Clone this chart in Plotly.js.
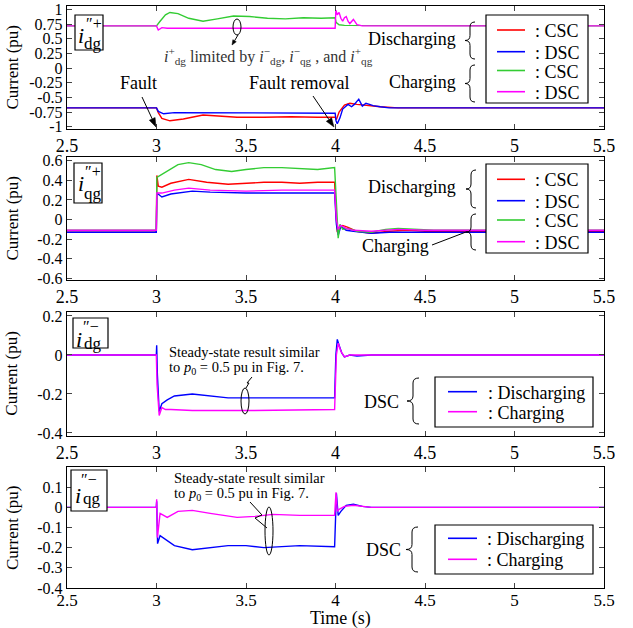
<!DOCTYPE html>
<html><head><meta charset="utf-8">
<script src="https://cdn.plot.ly/plotly-3.0.1.min.js"></script>
<style>body{margin:0;padding:0;background:#fff}#chart{width:633px;height:628px}</style>
</head><body><div id="chart"></div>
<script>
// ---------- DATA ----------
const xTicks = [2.5, 3, 3.5, 4, 4.5, 5, 5.5];
const xTickText = ["2.5", "3", "3.5", "4", "4.5", "5", "5.5"];
const y1Ticks = [1, 0.75, 0.5, 0.25, 0, -0.25, -0.5, -0.75, -1];
const y1TickText = ["1", "0.75", "0.5", "0.25", "0", "-0.25", "-0.5", "-0.75", "-1"];
const y2Ticks = [0.6, 0.4, 0.2, 0, -0.2, -0.4, -0.6];
const y2TickText = ["0.6", "0.4", "0.2", "0", "-0.2", "-0.4", "-0.6"];
const y3Ticks = [0.2, 0, -0.2, -0.4];
const y3TickText = ["0.2", "0", "-0.2", "-0.4"];
const y4Ticks = [0.1, 0, -0.1, -0.2, -0.3, -0.4];
const y4TickText = ["0.1", "0", "-0.1", "-0.2", "-0.3", "-0.4"];

// Plot 1: i''+ dg
const p1RedT = [2.5, 3.0, 3.01, 3.03, 3.075, 3.15, 3.26, 3.35, 3.45, 3.6, 3.75, 3.9, 3.998, 4.005, 4.02, 4.05, 4.08, 4.12, 4.18, 4.25, 4.35, 5.5];
const p1RedV = [-0.68, -0.68, -0.76, -0.86, -0.90, -0.87, -0.80, -0.82, -0.84, -0.84, -0.83, -0.84, -0.84, -0.88, -0.75, -0.63, -0.60, -0.62, -0.64, -0.66, -0.68, -0.68];
const p1BlueT = [2.5, 3.0, 3.01, 3.04, 3.1, 3.3, 3.5, 3.7, 3.9, 3.998, 4.003, 4.01, 4.025, 4.04, 4.07, 4.09, 4.105, 4.13, 4.15, 4.17, 4.19, 4.21, 4.25, 4.3, 5.5];
const p1BlueV = [-0.68, -0.68, -0.74, -0.78, -0.76, -0.76, -0.77, -0.76, -0.77, -0.77, -0.90, -0.95, -0.85, -0.70, -0.62, -0.66, -0.62, -0.53, -0.65, -0.60, -0.62, -0.64, -0.66, -0.68, -0.68];
const p1GreenT = [2.5, 3.0, 3.02, 3.05, 3.075, 3.12, 3.18, 3.26, 3.34, 3.43, 3.52, 3.62, 3.72, 3.82, 3.92, 3.998, 4.003, 4.02, 4.05, 4.1, 4.15, 4.2, 4.3, 4.4, 4.5, 4.6, 5.5];
const p1GreenV = [0.72, 0.72, 0.80, 0.91, 0.95, 0.93, 0.85, 0.80, 0.84, 0.89, 0.88, 0.85, 0.84, 0.86, 0.85, 0.86, 0.78, 0.74, 0.73, 0.73, 0.72, 0.72, 0.73, 0.73, 0.72, 0.72, 0.72];
const p1PinkT = [2.5, 3.0, 3.01, 3.03, 3.06, 3.2, 3.5, 3.998, 4.002, 4.01, 4.02, 4.03, 4.04, 4.05, 4.06, 4.07, 4.08, 4.09, 4.1, 4.12, 4.15, 5.5];
const p1PinkV = [0.72, 0.72, 0.65, 0.69, 0.68, 0.68, 0.68, 0.68, 0.99, 0.91, 0.95, 0.85, 0.80, 0.86, 0.88, 0.80, 0.76, 0.80, 0.83, 0.74, 0.72, 0.72];

// Plot 2: i''+ qg
const p2RedT = [2.5, 2.999, 3.002, 3.01, 3.03, 3.08, 3.18, 3.28, 3.4, 3.5, 3.6, 3.7, 3.8, 3.9, 3.995, 4.005, 4.01, 4.02, 4.04, 4.07, 4.12, 4.2, 4.3, 4.4, 4.5, 5.5];
const p2RedV = [-0.13, -0.13, 0.45, 0.34, 0.33, 0.37, 0.41, 0.38, 0.36, 0.37, 0.38, 0.38, 0.37, 0.38, 0.38, 0.0, -0.13, -0.08, -0.06, -0.08, -0.12, -0.14, -0.12, -0.11, -0.12, -0.12];
const p2BlueT = [2.5, 2.999, 3.002, 3.01, 3.03, 3.08, 3.2, 3.3, 3.5, 3.7, 3.9, 3.995, 4.005, 4.015, 4.03, 4.06, 4.1, 4.2, 4.3, 5.5];
const p2BlueV = [-0.13, -0.13, 0.27, 0.26, 0.23, 0.26, 0.29, 0.28, 0.27, 0.27, 0.27, 0.27, -0.05, -0.16, -0.07, -0.11, -0.12, -0.14, -0.13, -0.13];
const p2GreenT = [2.5, 2.999, 3.002, 3.02, 3.06, 3.12, 3.18, 3.25, 3.33, 3.42, 3.5, 3.6, 3.7, 3.8, 3.9, 3.995, 4.005, 4.015, 4.025, 4.04, 4.07, 4.12, 4.2, 4.28, 4.35, 4.45, 4.55, 5.5];
const p2GreenV = [-0.11, -0.11, 0.43, 0.45, 0.50, 0.56, 0.58, 0.56, 0.51, 0.49, 0.51, 0.53, 0.53, 0.52, 0.51, 0.53, 0.10, -0.19, -0.05, -0.10, -0.09, -0.12, -0.13, -0.10, -0.09, -0.10, -0.11, -0.11];
const p2PinkT = [2.5, 2.999, 3.002, 3.03, 3.1, 3.18, 3.3, 3.5, 3.7, 3.9, 3.995, 4.005, 4.015, 4.03, 4.06, 4.1, 4.2, 4.35, 4.5, 5.5];
const p2PinkV = [-0.11, -0.11, 0.27, 0.27, 0.30, 0.32, 0.30, 0.29, 0.30, 0.30, 0.30, 0.0, -0.10, -0.06, -0.09, -0.11, -0.12, -0.10, -0.11, -0.11];

// Plot 3: i''- dg
const p3BlueT = [2.5, 2.999, 3.001, 3.005, 3.015, 3.03, 3.06, 3.1, 3.2, 3.3, 3.4, 3.6, 3.8, 3.995, 4.002, 4.01, 4.02, 4.035, 4.05, 4.08, 4.12, 4.2, 5.5];
const p3BlueV = [0, 0, 0.05, -0.10, -0.29, -0.25, -0.23, -0.21, -0.20, -0.21, -0.22, -0.22, -0.22, -0.22, 0.0, 0.08, 0.05, 0.01, -0.01, 0.0, -0.005, 0.0, 0.0];
const p3PinkT = [2.5, 2.999, 3.003, 3.015, 3.03, 3.05, 3.08, 3.2, 3.5, 3.8, 3.995, 4.005, 4.015, 4.03, 4.05, 4.08, 4.2, 5.5];
const p3PinkV = [0, 0, -0.15, -0.31, -0.27, -0.28, -0.28, -0.285, -0.285, -0.28, -0.28, 0.0, 0.06, 0.02, -0.01, 0.0, 0.0, 0.0];

// Plot 4: i''- qg
const p4BlueT = [2.5, 2.999, 3.001, 3.006, 3.02, 3.05, 3.1, 3.2, 3.3, 3.4, 3.5, 3.6, 3.7, 3.8, 3.995, 4.005, 4.015, 4.03, 4.06, 4.1, 4.15, 4.2, 5.5];
const p4BlueV = [0, 0, 0.03, -0.18, -0.14, -0.16, -0.19, -0.21, -0.20, -0.19, -0.19, -0.20, -0.195, -0.19, -0.195, 0.07, -0.04, -0.02, 0.01, 0.015, 0.005, 0.0, 0.0];
const p4PinkT = [2.5, 2.999, 3.001, 3.005, 3.02, 3.06, 3.12, 3.2, 3.3, 3.45, 3.55, 3.65, 3.8, 3.995, 4.003, 4.01, 4.02, 4.05, 4.1, 4.2, 5.5];
const p4PinkV = [0, 0, 0.04, -0.15, -0.03, -0.05, -0.02, -0.015, -0.03, -0.05, -0.045, -0.035, -0.04, -0.04, 0.075, -0.02, -0.01, 0.005, 0.01, 0.0, 0.0];

const legendTop = [": CSC", ": DSC", ": CSC", ": DSC"];
const legendBottom = [": Discharging", ": Charging"];

// ---------- STYLE / LAYOUT ----------
const W = 633, H = 628;
const FONT = "Liberation Serif, Times New Roman, serif";
const RED = "#ff0000", BLUE = "#0000ff", GREEN = "#33cc33", PINK = "#ff00ff";
const px = x => x / W;
const py = y => 1 - y / H;

function tr(x, y, n, color, name) {
  return {x: x, y: y, xaxis: 'x' + (n === 1 ? '' : n), yaxis: 'y' + (n === 1 ? '' : n),
    type: 'scatter', mode: 'lines', line: {color: color, width: 1.4}, name: name,
    showlegend: false, hoverinfo: 'skip'};
}
const data = [
  tr(p1RedT, p1RedV, 1, RED, legendTop[0]),
  tr(p1BlueT, p1BlueV, 1, BLUE, legendTop[1]),
  tr(p1GreenT, p1GreenV, 1, GREEN, legendTop[2]),
  tr(p1PinkT, p1PinkV, 1, PINK, legendTop[3]),
  tr(p2RedT, p2RedV, 2, RED, legendTop[0]),
  tr(p2BlueT, p2BlueV, 2, BLUE, legendTop[1]),
  tr(p2GreenT, p2GreenV, 2, GREEN, legendTop[2]),
  tr(p2PinkT, p2PinkV, 2, PINK, legendTop[3]),
  tr(p3BlueT, p3BlueV, 3, BLUE, legendBottom[0]),
  tr(p3PinkT, p3PinkV, 3, PINK, legendBottom[1]),
  tr(p4BlueT, p4BlueV, 4, BLUE, legendBottom[0]),
  tr(p4PinkT, p4PinkV, 4, PINK, legendBottom[1])
];

const xDom = [px(67), px(604)];
function xa(n, fs) {
  return {domain: xDom, range: [2.5, 5.5], anchor: 'y' + (n === 1 ? '' : n), tickvals: xTicks, ticktext: xTickText,
    showline: true, mirror: 'ticks', ticks: 'inside', ticklen: 5, linecolor: '#000', linewidth: 1.2,
    showgrid: false, zeroline: false, tickfont: {family: FONT, size: fs || 18, color: '#000'}, fixedrange: true};
}
function ya(n, dom, range, tv, tt) {
  return {domain: dom, range: range, anchor: 'x' + (n === 1 ? '' : n), tickvals: tv, ticktext: tt,
    showline: true, mirror: 'ticks', ticks: 'inside', ticklen: 5, linecolor: '#000', linewidth: 1.2,
    showgrid: false, zeroline: false, tickfont: {family: FONT, size: 16, color: '#000'}, fixedrange: true};
}

const ann = [];
const shapes = [];
function txt(x, y, text, size, extra) {
  ann.push(Object.assign({xref: 'paper', yref: 'paper', x: px(x), y: py(y), text: text, showarrow: false,
    font: {family: FONT, size: size, color: '#000'}, xanchor: 'center', yanchor: 'middle'}, extra || {}));
}
function pathPx(pts) {
  return pts.map(p => (typeof p === 'string') ? p : (px(p[0]).toFixed(5) + ',' + py(p[1]).toFixed(5))).join(' ');
}
function line(x0, y0, x1, y1, color, width) {
  shapes.push({type: 'line', xref: 'paper', yref: 'paper', x0: px(x0), y0: py(y0), x1: px(x1), y1: py(y1), line: {color: color || '#000', width: width || 1}});
}
// arrow drawn as a line plus a filled triangular head at (x1, y1)
function arrow(x0, y0, x1, y1, len, half) {
  len = len || 9; half = half || 3.2;
  const dx = x1 - x0, dy = y1 - y0, L = Math.hypot(dx, dy), ux = dx / L, uy = dy / L;
  const bx = x1 - ux * len, by = y1 - uy * len;
  line(x0, y0, bx, by);
  shapes.push({type: 'path', xref: 'paper', yref: 'paper', fillcolor: '#000', line: {color: '#000', width: 0.5},
    path: pathPx(['M', [x1, y1], 'L', [bx - uy * half, by + ux * half], 'L', [bx + uy * half, by - ux * half], 'Z'])});
}
function rect(x0, y0, x1, y1) {
  shapes.push({type: 'rect', xref: 'paper', yref: 'paper', x0: px(x0), y0: py(y0), x1: px(x1), y1: py(y1), line: {color: '#000', width: 1.2}, fillcolor: '#fff'});
}
function ellipse(cx, cy, rx, ry) {
  shapes.push({type: 'circle', xref: 'paper', yref: 'paper', x0: px(cx - rx), y0: py(cy + ry), x1: px(cx + rx), y1: py(cy - ry), line: {color: '#000', width: 1}});
}
function brace(x0, y0, y1, w) {
  w = w || 10;
  const xm = x0 + w / 2, ym = (y0 + y1) / 2, r = 5;
  const d = pathPx(['M', [x0 + w, y0], 'Q', [xm, y0], [xm, y0 + r], 'L', [xm, ym - r], 'Q', [xm, ym], [x0, ym],
    'Q', [xm, ym], [xm, ym + r], 'L', [xm, y1 - r], 'Q', [xm, y1], [x0 + w, y1]]);
  shapes.push({type: 'path', xref: 'paper', yref: 'paper', path: d, line: {color: '#000', width: 1}});
}
function labelBox(x0, y0, x1, y1, iPos, supPos, sup, subPos, sub) {
  rect(x0, y0, x1, y1);
  txt(iPos[0], iPos[1], '<i>i</i>', 22);
  txt(supPos[0], supPos[1], sup, 16);
  txt(subPos[0], subPos[1], sub, 17);
}
// legend drawn as a box with line samples and names
function legendBox(x0, y0, x1, y1, rows, colors, names, lx0, lx1, tx) {
  rect(x0, y0, x1, y1);
  rows.forEach((ry, i) => {
    line(lx0, ry, lx1, ry, colors[i], 1.6);
    txt(tx, ry + 1, names[i], 18, {xanchor: 'left'});
  });
}

// Y-axis titles
[67.5, 218.5, 373.7, 528].forEach(c => txt(12, c, 'Current (pu)', 17, {textangle: -90}));
txt(340, 618, 'Time (s)', 18);

// Plot 1 annotations
labelBox(75, 15, 103, 50, [81, 36], [94, 23], '\u2033+', [93, 43], 'dg');
txt(138, 83, 'Fault', 18);
arrow(142, 97, 156, 127);
txt(299, 83, 'Fault removal', 18);
arrow(313, 96, 334, 127);
txt(268, 56, '<i>i</i><sup>+</sup><sub>dg</sub> limited by <i>i</i><sup>\u2212</sup><sub>dg</sub>, <i>i</i><sup>\u2212</sup><sub>qg</sub> , and <i>i</i><sup>+</sup><sub>qg</sub>', 16, {font: {family: FONT, size: 16, color: '#333'}});
ellipse(237, 27, 4, 8);
arrow(238, 35, 232, 45, 5, 2);
txt(458, 39, 'Discharging', 18, {xanchor: 'right'});
brace(465, 22, 59, 10);
txt(458, 82, 'Charging', 18, {xanchor: 'right'});
brace(465, 65, 102, 10);
legendBox(486, 15, 588, 103, [30, 51.7, 70.5, 91.7], [RED, BLUE, GREEN, PINK], legendTop, 497, 525, 533);

// Plot 2 annotations
labelBox(74, 163, 102, 203, [81, 184], [93, 171], '\u2033+', [93, 193], 'qg');
txt(458, 187, 'Discharging', 18, {xanchor: 'right'});
brace(466, 170, 208, 10);
brace(466, 214, 250, 10);
txt(395, 246, 'Charging', 18);
line(432, 245, 466, 232);
legendBox(486, 164, 588, 253, [179.3, 200.7, 220, 241.7], [RED, BLUE, GREEN, PINK], legendTop, 497, 525, 533);

// Plot 3 annotations
labelBox(73, 318, 108, 348, [79, 339], [91, 326], '\u2033\u2212', [93, 343], 'dg');
txt(167, 352, 'Steady-state result similar', 14.5, {xanchor: 'left'});
txt(167, 368, 'to <i>p</i><sub>0</sub> = 0.5 pu in Fig. 7.', 14.5, {xanchor: 'left'});
ellipse(245, 401, 4, 13);
shapes.push({type: 'path', xref: 'paper', yref: 'paper', line: {color: '#000', width: 1},
  path: pathPx(['M', [246, 388], 'L', [249, 383], 'L', [247, 383], 'L', [252, 377]])});
txt(381, 402, 'DSC', 18);
brace(407, 378, 424, 12);
legendBox(435, 377, 593, 427, [391.7, 411.7], [BLUE, PINK], legendBottom, 448, 477, 486);

// Plot 4 annotations
labelBox(71, 470, 107, 511, [78, 495], [89, 479], '\u2033\u2212', [92, 498], 'qg');
txt(172, 478, 'Steady-state result similar', 14.5, {xanchor: 'left'});
txt(172, 494, 'to <i>p</i><sub>0</sub> = 0.5 pu in Fig. 7.', 14.5, {xanchor: 'left'});
ellipse(269, 531, 4, 24);
shapes.push({type: 'path', xref: 'paper', yref: 'paper', line: {color: '#000', width: 1},
  path: pathPx(['M', [250, 502], 'L', [262, 515], 'L', [255, 518], 'L', [267, 528]])});
txt(383, 550, 'DSC', 18);
brace(406, 527, 572, 12);
legendBox(435, 525, 593, 574, [538.3, 559.3], [BLUE, PINK], legendBottom, 448, 477, 485);

const xa4 = xa(4, 17);
xa4.ticklabelstandoff = -4;
const layout = {
  width: W, height: H, margin: {l: 0, r: 0, t: 0, b: 0}, paper_bgcolor: '#fff', plot_bgcolor: '#fff',
  font: {family: FONT, size: 16, color: '#000'},
  xaxis: xa(1), xaxis2: xa(2), xaxis3: xa(3), xaxis4: xa4,
  yaxis: ya(1, [py(129), py(6)], [-1.04, 1.06], y1Ticks, y1TickText),
  yaxis2: ya(2, [py(280), py(157)], [-0.617, 0.638], y2Ticks, y2TickText),
  yaxis3: ya(3, [py(435.7), py(311.7)], [-0.414, 0.222], y3Ticks, y3TickText),
  yaxis4: ya(4, [py(588), py(467)], [-0.4, 0.2], y4Ticks, y4TickText),
  annotations: ann, shapes: shapes, showlegend: false
};
Plotly.newPlot('chart', data, layout, {displayModeBar: false, staticPlot: true});
</script></body></html>
